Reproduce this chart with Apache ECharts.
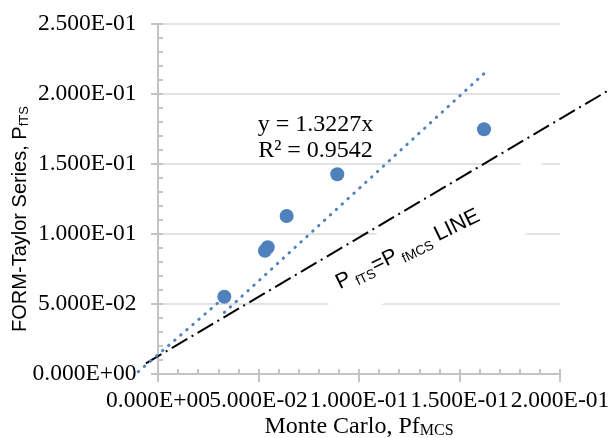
<!DOCTYPE html>
<html>
<head>
<meta charset="utf-8">
<script src="https://cdn.jsdelivr.net/npm/echarts@6/dist/echarts.min.js"></script>
<style>
  html, body { margin: 0; padding: 0; background: #fff; }
  #chart { width: 610px; height: 438px; }
</style>
</head>
<body>
<div id="chart"></div>
<script>
// Failure probability: Monte Carlo simulation vs FORM-Taylor series
const monteCarloPf = [0.0330, 0.0532, 0.0546, 0.0640, 0.0892, 0.1622];
const formTaylorPf = [0.0549, 0.0878, 0.0903, 0.1127, 0.1425, 0.1747];

// Linear fit through the origin, as reported on the chart
const trendSlope = 1.3227;
const trendR2 = 0.9542;

// Dotted lead-in segment drawn towards the origin
const leadInX = [-0.0098, 0.0318];
const leadInY = [0.0013, 0.0530];

// Hand-drawn PfTS = PfMCS reference line
const refLineX = [-0.006, 0.2234];
const refLineY = [0.0073, 0.2019];

// Axis tick values
const xTicks = [0, 0.05, 0.10, 0.15, 0.20];
const yTicks = [0, 0.05, 0.10, 0.15, 0.20, 0.25];

const BLUE = '#4f81bd';
const AXIS_GRAY = '#c4c4c4';
const GRID_GRAY = '#d9d9d9';
const SERIF = '"Liberation Serif", "Times New Roman", serif';
const SANS = '"Liberation Sans", Arial, sans-serif';

// Excel-style scientific notation: 5.000E-02
function sci(v) {
  const s = Number(v).toExponential(3);
  const parts = s.split('e');
  const n = parseInt(parts[1], 10);
  return parts[0] + 'E' + (n < 0 ? '-' : '+') + String(Math.abs(n)).padStart(2, '0');
}

const pairs = (xs, ys) => xs.map((x, i) => [x, ys[i]]);

const xMin = Math.min(...monteCarloPf);
const xMax = Math.max(...monteCarloPf);
const trendData = [[xMin, trendSlope * xMin], [xMax, trendSlope * xMax]];

const xRange = { min: xTicks[0], max: xTicks[xTicks.length - 1], interval: xTicks[1] - xTicks[0] };
const yRange = { min: yTicks[0], max: yTicks[yTicks.length - 1], interval: yTicks[1] - yTicks[0] };

// The x labels touch each other; the origin label is drawn by the second
// x axis so the two label sets never compete for space.
const xLabelStyle = {
  margin: 15, fontFamily: SERIF, fontSize: 23.5, color: '#000',
  showMinLabel: true, showMaxLabel: true, hideOverlap: false
};

// Straight segment that may run past the plot edges
function segmentSeries(name, xs, ys, style) {
  return {
    type: 'custom', name, z: 3, silent: true, clip: false,
    data: [[xs[0], ys[0], xs[1], ys[1]]],
    encode: { x: [0, 2], y: [1, 3] },
    renderItem(params, api) {
      const a = api.coord([api.value(0), api.value(1)]);
      const b = api.coord([api.value(2), api.value(3)]);
      return {
        type: 'line',
        shape: { x1: a[0], y1: a[1], x2: b[0], y2: b[1] },
        style: Object.assign({ fill: null }, style)
      };
    }
  };
}

const chart = echarts.init(document.getElementById('chart'), null, { renderer: 'canvas' });

chart.setOption({
  animation: false,
  backgroundColor: '#fff',
  grid: { left: 158, right: 50, top: 24, bottom: 64.5, containLabel: false, outerBoundsMode: 'none' },
  xAxis: [
    {
      type: 'value', ...xRange, position: 'bottom',
      axisLine: { show: true, onZero: false, lineStyle: { color: AXIS_GRAY, width: 2 } },
      axisTick: { show: true, inside: false, length: 8.5, lineStyle: { color: AXIS_GRAY, width: 2 } },
      minorTick: { show: false },
      splitLine: { show: false },
      axisLabel: Object.assign({}, xLabelStyle, {
        formatter: (v) => (v === xTicks[0] ? '' : sci(v))
      }),
      name: '{a|Monte Carlo, Pf}{b|MCS}',
      nameLocation: 'middle',
      nameGap: 41,
      nameMoveOverlap: false,
      nameTextStyle: {
        rich: {
          a: { fontFamily: SERIF, fontSize: 24, lineHeight: 24, color: '#000' },
          b: { fontFamily: SERIF, fontSize: 16, lineHeight: 14, verticalAlign: 'bottom', color: '#000' }
        }
      }
    },
    {
      type: 'value', ...xRange, position: 'bottom',
      axisLine: { show: false, onZero: false },
      axisTick: { show: true, inside: true, length: 4.5, lineStyle: { color: AXIS_GRAY, width: 2 } },
      minorTick: { show: true, splitNumber: 5, length: 4.5, lineStyle: { color: AXIS_GRAY, width: 2 } },
      splitLine: { show: false },
      axisLabel: Object.assign({}, xLabelStyle, {
        formatter: (v) => (v === xTicks[0] ? sci(v) : '')
      })
    }
  ],
  yAxis: [
    {
      type: 'value', ...yRange, position: 'left',
      axisLine: { show: true, onZero: false, lineStyle: { color: AXIS_GRAY, width: 2 } },
      axisTick: { show: true, inside: false, length: 7, lineStyle: { color: AXIS_GRAY, width: 2 } },
      minorTick: { show: false },
      splitLine: { show: true, lineStyle: { color: GRID_GRAY, width: 1.5 } },
      axisLabel: {
        margin: 21.5, formatter: sci, fontFamily: SERIF, fontSize: 23.5, color: '#000',
        showMinLabel: true, showMaxLabel: true
      }
    },
    {
      type: 'value', ...yRange, position: 'left',
      axisLine: { show: false, onZero: false },
      axisTick: { show: true, inside: true, length: 5, lineStyle: { color: AXIS_GRAY, width: 2 } },
      minorTick: { show: true, splitNumber: 5, length: 5, lineStyle: { color: AXIS_GRAY, width: 2 } },
      splitLine: { show: false },
      axisLabel: { show: false }
    }
  ],
  graphic: [
    {
      type: 'text', x: 20.4, y: 219, rotation: Math.PI / 2, z: 100, silent: true,
      style: {
        text: '{a|FORM-Taylor Series, P}{b|fTS}',
        align: 'center', verticalAlign: 'middle',
        rich: {
          a: { fontFamily: SANS, fontSize: 20, lineHeight: 22, fill: '#000', color: '#000' },
          b: { fontFamily: SANS, fontSize: 13, lineHeight: 12, verticalAlign: 'bottom', fill: '#000', color: '#000' }
        }
      }
    },
    {
      type: 'text', x: 315.5, y: 137.8, z: 100, silent: true,
      style: {
        text: 'y = ' + trendSlope.toFixed(4) + 'x\nR\u00B2 = ' + trendR2.toFixed(4),
        font: '24px ' + SERIF, lineHeight: 26.6,
        align: 'center', verticalAlign: 'middle', fill: '#000'
      }
    }
  ],
  series: [
    {
      // white text box naming the equality line
      type: 'scatter', name: 'equality label', z: 1, silent: true,
      symbolSize: 0, data: [[0.1394, 0.0952]],
      emphasis: { disabled: true },
      label: {
        show: true, position: 'inside', rotate: 26, opacity: 1,
        align: 'center', verticalAlign: 'middle',
        color: '#000', textBorderWidth: 0, textShadowBlur: 0,
        backgroundColor: '#fff', padding: [13.5, 0, 24, 17], width: 236.6,
        formatter: '{p|P}{s| fTS}{p|=P}{s| fMCS}{p| LINE}',
        rich: {
          p: { fontFamily: SANS, fontSize: 21.5, lineHeight: 28, color: '#000', opacity: 1, textBorderWidth: 0, align: 'left' },
          s: { fontFamily: SANS, fontSize: 13.5, lineHeight: 14, verticalAlign: 'bottom', color: '#000', opacity: 1, textBorderWidth: 0, align: 'left' }
        }
      }
    },
    segmentSeries('PfTS = PfMCS', refLineX, refLineY,
      { stroke: '#000', lineWidth: 2, lineDash: [18, 5, 2, 5] }),
    segmentSeries('lead-in', leadInX, leadInY,
      { stroke: BLUE, lineWidth: 3, lineDash: [0.5, 7.5], lineCap: 'round' }),
    {
      type: 'line', name: 'Linear fit', z: 3, silent: true, clip: false,
      data: trendData, showSymbol: false, symbol: 'none',
      lineStyle: { color: BLUE, width: 3, type: [0.5, 7.5], cap: 'round' }
    },
    {
      type: 'scatter', name: 'PfTS vs PfMCS', z: 5,
      data: pairs(monteCarloPf, formTaylorPf),
      symbol: 'circle', symbolSize: 14,
      itemStyle: { color: BLUE, opacity: 1 }
    }
  ]
});
</script>
</body>
</html>
